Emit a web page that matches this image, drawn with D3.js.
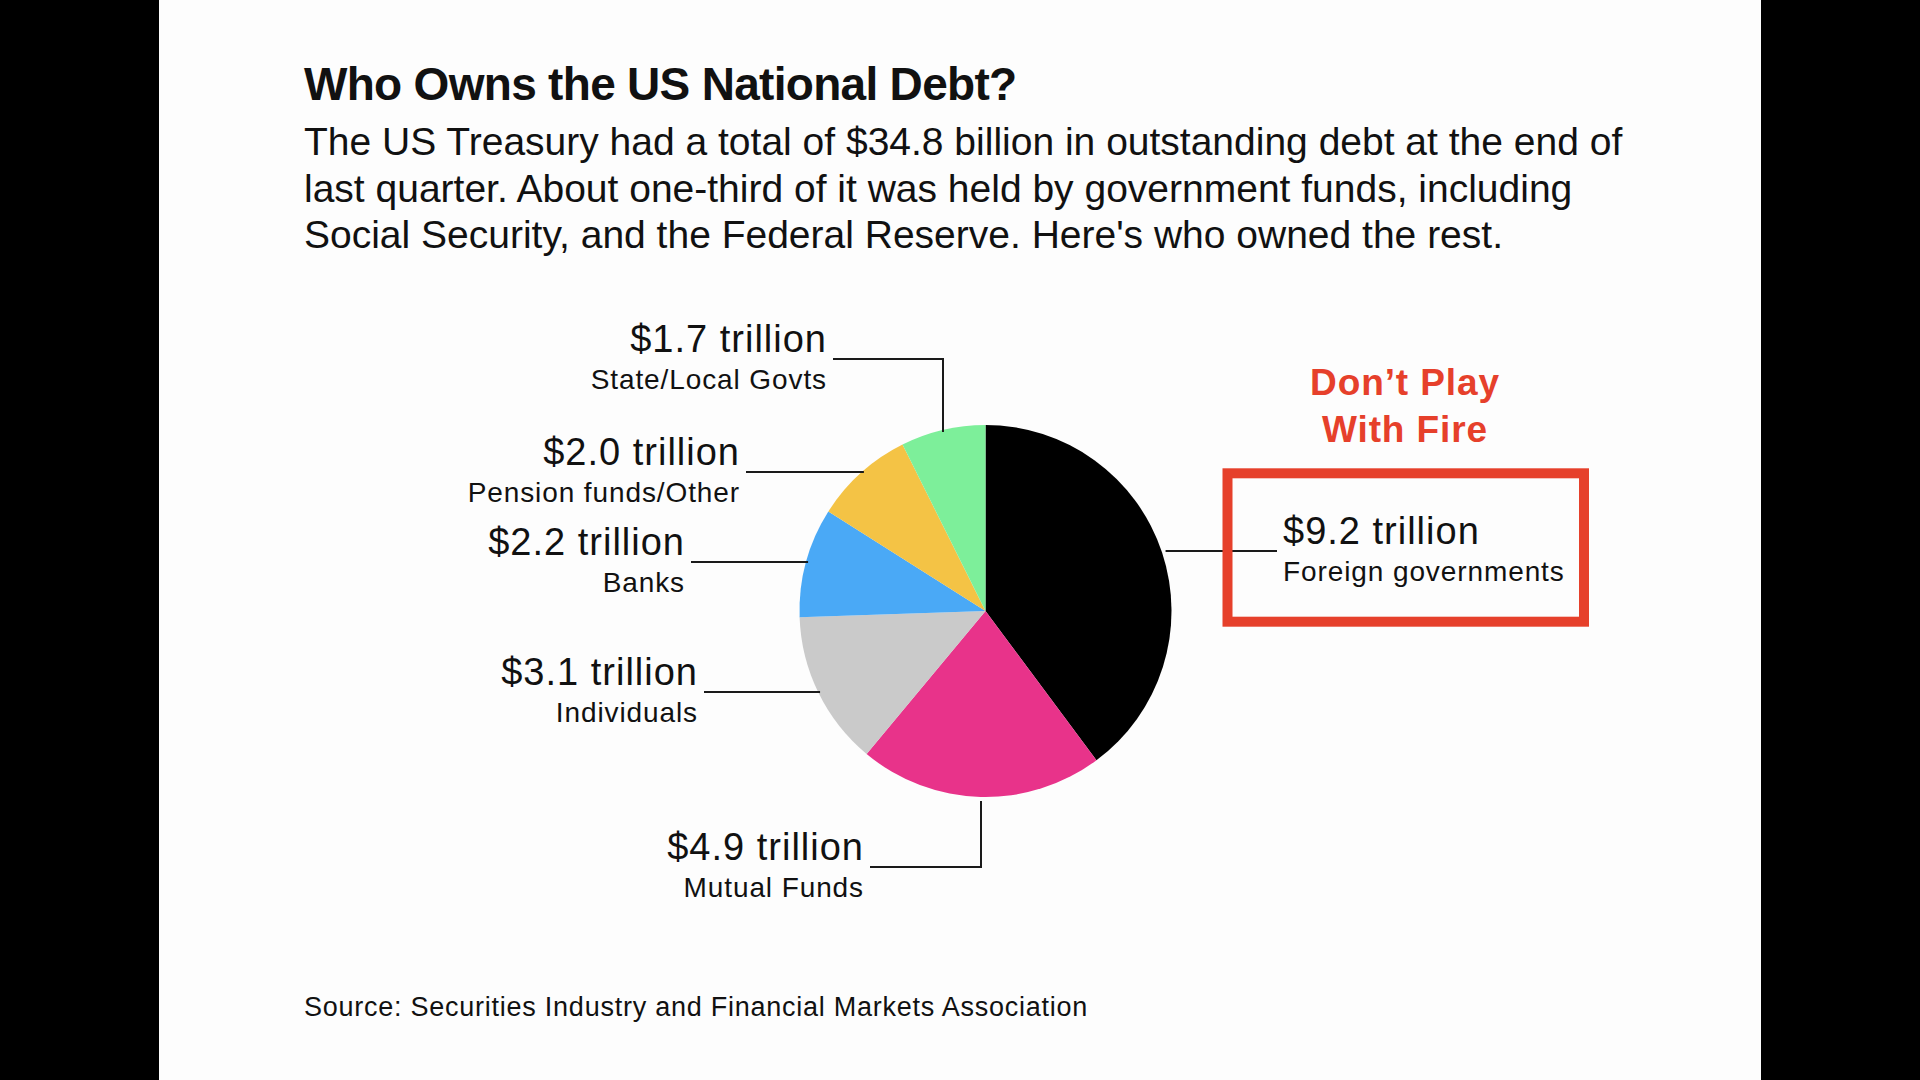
<!DOCTYPE html>
<html>
<head>
<meta charset="utf-8">
<script src="https://cdn.jsdelivr.net/npm/d3@7"></script>
<style>
  html, body { margin: 0; padding: 0; background: #000; }
  svg { display: block; }
  text { font-family: "Liberation Sans", Arial, Helvetica, sans-serif; fill: #111; }
</style>
</head>
<body>
<div id="chart"></div>
<script>
// data (trillions of dollars)
const categories = ["Foreign governments", "Mutual Funds", "Individuals", "Banks", "Pension funds/Other", "State/Local Govts"]
const values = [9.2, 4.9, 3.1, 2.2, 2.0, 1.7]
const valueLabels = ["$9.2 trillion", "$4.9 trillion", "$3.1 trillion", "$2.2 trillion", "$2.0 trillion", "$1.7 trillion"]
const colors = ["#000000", "#e8338a", "#cacaca", "#4aa9f6", "#f4c345", "#7def9a"]

const title = "Who Owns the US National Debt?"
const subtitle = [
    "The US Treasury had a total of $34.8 billion in outstanding debt at the end of",
    "last quarter. About one-third of it was held by government funds, including",
    "Social Security, and the Federal Reserve. Here's who owned the rest."
]
const callout = ["Don\u2019t Play", "With Fire"]
const source = "Source: Securities Industry and Financial Markets Association"

// where each label sits (same order as categories)
const labelLayout = [
    {side: "right", tx: 1283, ty: 544},
    {side: "bottom", tx: 864, ty: 860, ex: 981},
    {side: "left", tx: 698, ty: 685},
    {side: "left", tx: 685, ty: 555},
    {side: "left", tx: 740, ty: 465},
    {side: "top", tx: 827, ty: 352, ex: 943}
]

const width = 1920, height = 1080
const cx = 985.5, cy = 611, radius = 186

const svg = d3.select("#chart").append("svg")
    .attr("width", width)
    .attr("height", height)

// white slide between the black bars
svg.append("rect")
    .attr("x", 159).attr("y", 0)
    .attr("width", 1761 - 159).attr("height", height)
    .attr("fill", "#fdfdfd")

// heading
svg.append("text")
    .attr("x", 304).attr("y", 100)
    .style("font-size", "46px")
    .style("font-weight", "bold")
    .style("letter-spacing", "-0.7px")
    .text(title)

svg.append("g").selectAll("text")
    .data(subtitle)
    .join("text")
    .attr("x", 304)
    .attr("y", (d, i) => 155 + i * 46.7)
    .style("font-size", "39px")
    .text(d => d)

// pie
const color = d3.scaleOrdinal().domain(categories).range(colors)

const pie = d3.pie().sort(null).value(d => d.value)
const arc = d3.arc().innerRadius(0).outerRadius(radius)

const slices = pie(categories.map((c, i) => ({name: c, value: values[i]})))

svg.append("g")
    .attr("transform", `translate(${cx},${cy})`)
    .selectAll("path")
    .data(slices)
    .join("path")
    .attr("d", arc)
    .attr("fill", d => color(d.data.name))

// leader lines + labels
function edgeX(y, dir) {
    return cx + dir * Math.sqrt(radius * radius - (y - cy) * (y - cy))
}
function edgeY(x, dir) {
    return cy + dir * Math.sqrt(radius * radius - (x - cx) * (x - cx))
}

const labels = svg.append("g")

categories.forEach((c, i) => {
    const L = labelLayout[i]
    const lineY = L.ty + 7
    let pts
    if (L.side === "left") {
        pts = [[L.tx + 6, lineY], [edgeX(lineY, -1) + 2, lineY]]
    } else if (L.side === "right") {
        pts = [[edgeX(lineY, 1) + 4, lineY], [L.tx - 6, lineY]]
    } else if (L.side === "top") {
        pts = [[L.tx + 6, lineY], [L.ex, lineY], [L.ex, edgeY(L.ex, -1) + 2]]
    } else {
        pts = [[L.tx + 6, lineY], [L.ex, lineY], [L.ex, edgeY(L.ex, 1) + 4]]
    }

    labels.append("path")
        .attr("d", d3.line()(pts))
        .attr("fill", "none")
        .attr("stroke", "#1a1a1a")
        .attr("stroke-width", 2)

    const anchor = L.side === "right" ? "start" : "end"

    labels.append("text")
        .attr("x", L.tx).attr("y", L.ty)
        .attr("text-anchor", anchor)
        .style("font-size", "38px")
        .style("letter-spacing", "1px")
        .text(valueLabels[i])

    labels.append("text")
        .attr("x", L.tx).attr("y", L.ty + 36.7)
        .attr("text-anchor", anchor)
        .style("font-size", "28px")
        .style("letter-spacing", "0.9px")
        .text(c)
})

// red callout box round the biggest holder
svg.append("rect")
    .attr("x", 1227.5).attr("y", 473.3)
    .attr("width", 356.5).attr("height", 148.4)
    .attr("fill", "none")
    .attr("stroke", "#e6402b")
    .attr("stroke-width", 10)

svg.append("g").selectAll("text")
    .data(callout)
    .join("text")
    .attr("x", 1405)
    .attr("y", (d, i) => 395 + i * 46.7)
    .attr("text-anchor", "middle")
    .style("font-size", "37px")
    .style("font-weight", "bold")
    .style("letter-spacing", "0.9px")
    .style("fill", "#e6402b")
    .text(d => d)

svg.append("text")
    .attr("x", 304).attr("y", 1016)
    .style("font-size", "27px")
    .style("letter-spacing", "0.75px")
    .text(source)
</script>
</body>
</html>
